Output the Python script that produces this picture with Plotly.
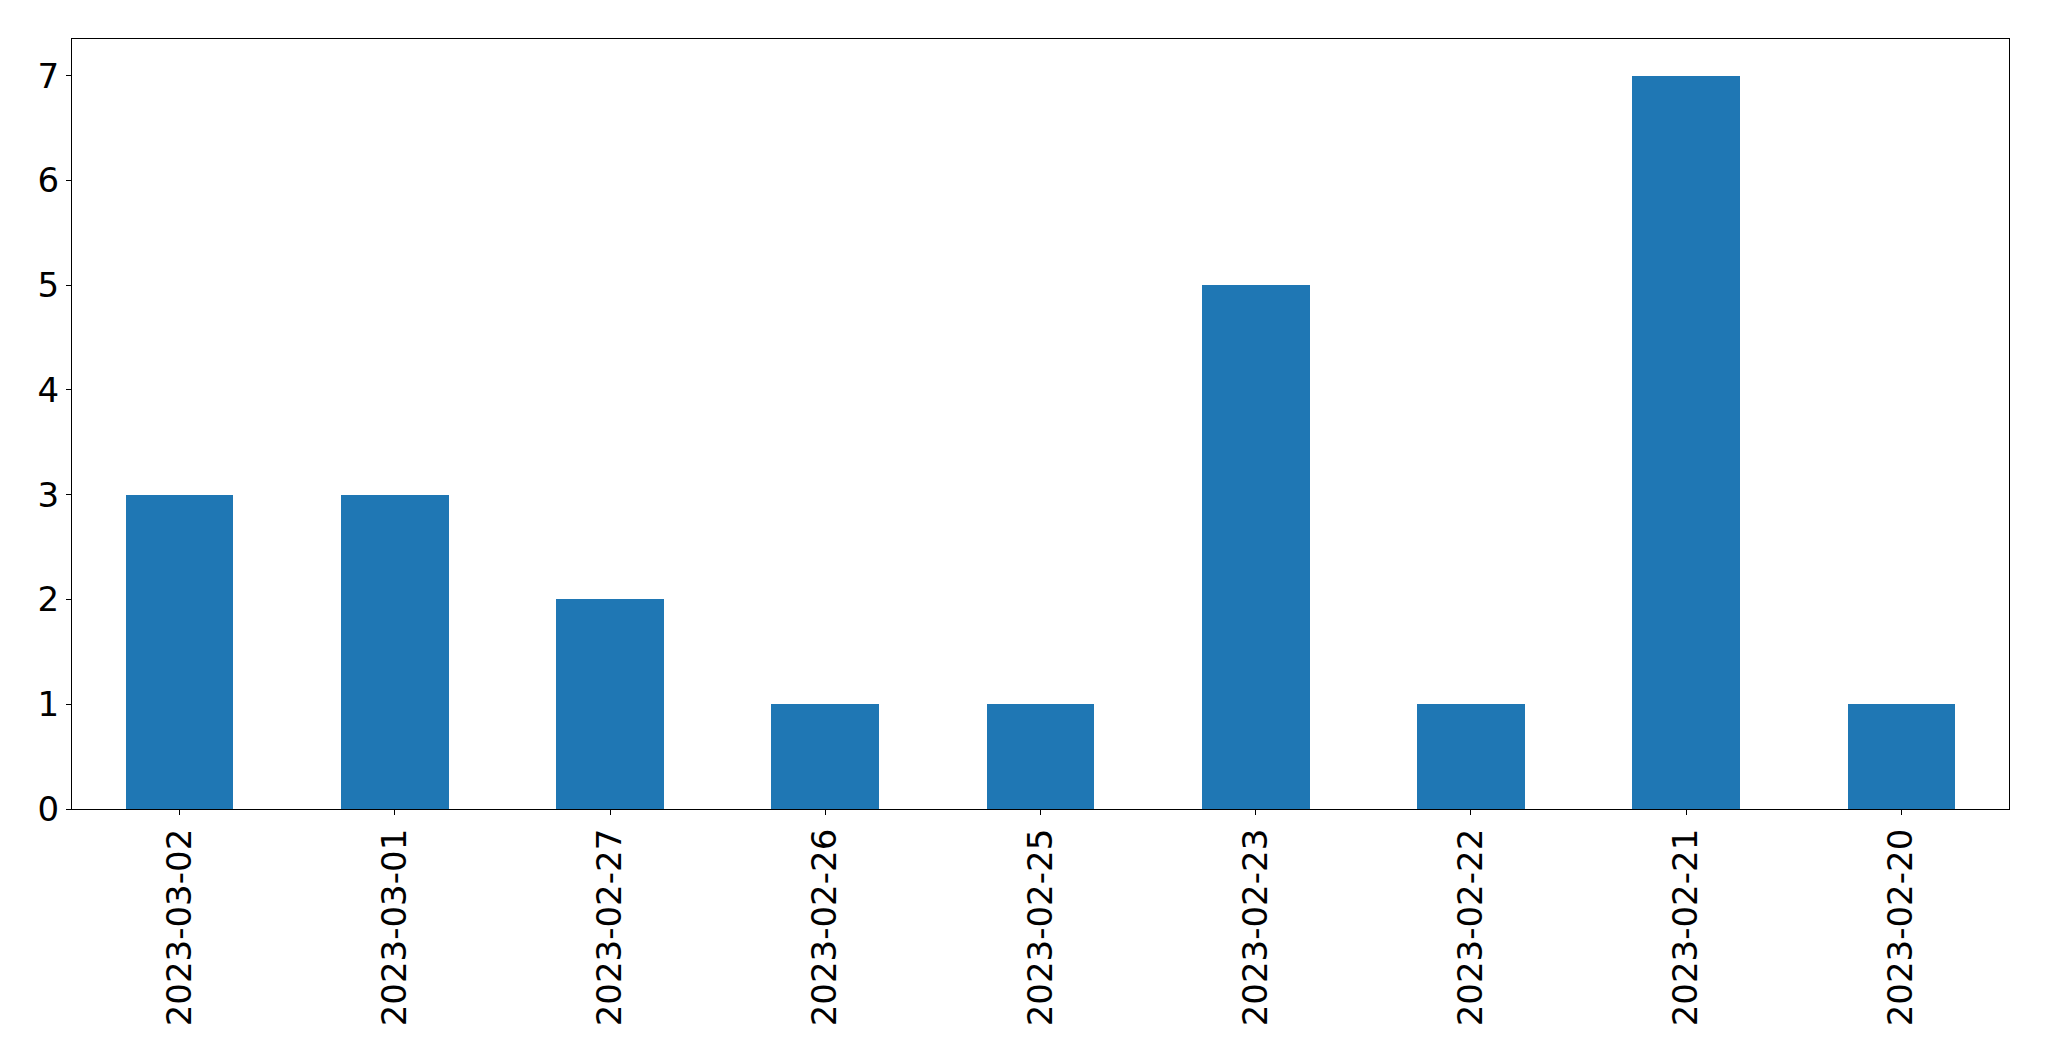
import plotly.graph_objects as go

dates = ["2023-03-02", "2023-03-01", "2023-02-27", "2023-02-26", "2023-02-25",
         "2023-02-23", "2023-02-22", "2023-02-21", "2023-02-20"]
counts = [3, 3, 2, 1, 1, 5, 1, 7, 1]
y_ticks = [0, 1, 2, 3, 4, 5, 6, 7]

fig = go.Figure(go.Bar(x=dates, y=counts, width=0.5, marker=dict(color="#1f77b4", line=dict(width=0))))

axis_common = dict(showline=True, linecolor="black", linewidth=1.3, mirror=True,
                   ticks="outside", ticklen=5, tickwidth=1.3, tickcolor="black",
                   showgrid=False, zeroline=False, automargin=False,
                   tickfont=dict(family="DejaVu Sans", size=34, color="black"))

# page body has an 8px default margin, so the figure is sized to fit the window
fig.update_layout(
    width=2041, height=1053,
    margin=dict(l=64, r=40, t=31, b=252),
    plot_bgcolor="white", paper_bgcolor="white",
    showlegend=False,
    bargap=0,
    xaxis=dict(type="category", range=[-0.5, 8.5], tickangle=-90, **axis_common),
    yaxis=dict(range=[0, 7.35], tickvals=y_ticks, **axis_common),
)

fig.write_html("out.html")
